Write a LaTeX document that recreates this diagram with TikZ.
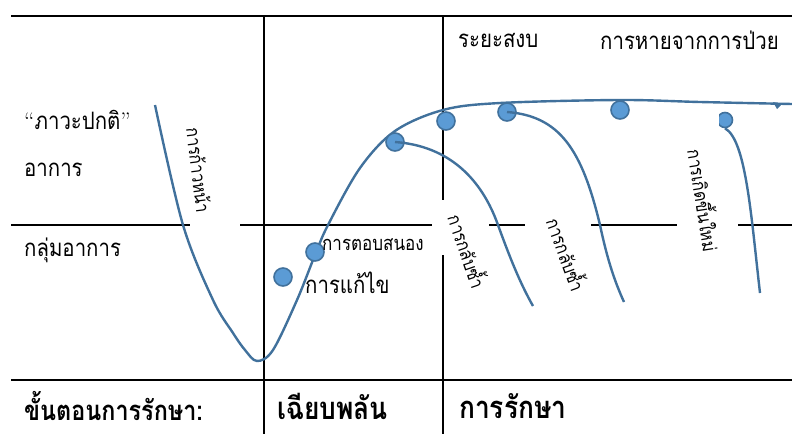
\documentclass[tikz,border=0pt]{standalone}
\usepackage{fontspec}
\newfontfamily\thai[Script=Thai, FakeStretch=0.85]{Loma}
\usetikzlibrary{arrows.meta}
\definecolor{curveblue}{HTML}{41719C}
\definecolor{dotblue}{HTML}{5B9BD5}
\begin{document}
\begin{tikzpicture}[x=1pt,y=-1pt,
  grid/.style={line width=2.2pt, black},
  curve/.style={line width=2.4pt, curveblue},
  dot/.style={circle, fill=dotblue, draw=curveblue, line width=1.6pt, minimum size=18pt, inner sep=0pt},
  lbl/.style={inner sep=0pt, anchor=west, font=\thai\fontsize{24}{27}\selectfont},
  small/.style={inner sep=0pt, anchor=west, font=\thai\fontsize{20}{22}\selectfont},
  rot/.style={inner sep=0pt, font=\thai\fontsize{18.8}{21}\selectfont},
  big/.style={inner sep=0pt, anchor=west, font=\thai\bfseries\fontsize{31}{34}\selectfont},
  mid/.style={inner sep=0pt, anchor=west, font=\thai\bfseries\fontsize{27.5}{30}\selectfont}]
\useasboundingbox (0,0) rectangle (792,434);
% grid
\draw[grid] (11,16) -- (792,16);
\draw[grid] (11,380) -- (792,380);
\draw[grid] (264,16) -- (264,434);
\draw[grid] (443,16) -- (443,200);
\draw[grid] (443,255) -- (443,434);
\draw[grid] (11,225) -- (190,225);
\draw[grid] (240,225) -- (432,225);
\draw[grid] (489,225) -- (525,225);
\draw[grid] (591,225) -- (677,225);
\draw[grid] (738,225) -- (792,225);
% main curve
\draw[curve] plot[smooth, tension=0.55] coordinates {(155,105) (183,225) (213,300) (233,333) (245,350) (257,361) (273,350) (297,300) (315,255) (328,225) (360,168) (395,131) (443,110) (500,103) (620,100) (700,102) (792,104)};
\fill[curveblue] (773,102) -- (782,104) -- (777,109) -- cycle;
% dots
\node[dot] (d1) at (283,277) {};
\node[dot] (d2) at (315,252) {};
\node[dot] (d3) at (395,142) {};
\node[dot] (d4) at (446,121) {};
\node[dot] (d5) at (507,112) {};
\node[dot] (d6) at (620,110) {};
% branches
\coordinate (e1) at (533,306);
\coordinate (e2) at (624,302);
\coordinate (s3) at (760,293);
\draw[curve] (d3.center) .. controls (450,146) and (482,180) .. (498,225) .. controls (510,258) and (520,283) .. (e1);
\draw[curve] (d5.center) .. controls (560,116) and (582,150) .. (600,225) .. controls (607,258) and (614,280) .. (e2);
\begin{scope}
\clip (719,100) rectangle (745,140);
\node[dot, minimum size=15pt] (tip) at (725,120) {};
\end{scope}
\draw[curve] (s3) .. controls (751,215) and (746,140) .. (tip.south);
% labels
\node[lbl] (normal) at (24,120) {{\rmfamily “}ภาวะปกติ{\rmfamily ”}};
\node[lbl] (sym) at (24,170) {อาการ};
\node[lbl] (syn) at (24,250) {กลุ่มอาการ};
\node[mid] (stage) at (24,406) {ขั้นตอนการรักษา:};
\node[big] (acute) at (277,406) {เฉียบพลัน};
\node[big] (treat) at (459,406) {การรักษา};
\node[lbl] (remis) at (458,40) {ระยะสงบ};
\node[lbl] (recov) at (600,40) {การหายจากการป่วย};
\node[small] (resp) at (322,245) {การตอบสนอง};
\node[lbl] (fix) at (305,283) {การแก้ไข};
\node[rot, rotate=-83] (prog) at (199,170) {การก้าวหน้า};
\node[rot, rotate=-71] (rel1) at (469,251) {การกลับซ้ำ};
\node[rot, rotate=-70] (rel2) at (568,254) {การกลับซ้ำ};
\node[rot, rotate=-81] (recur) at (705,200) {การเกิดขึ้นใหม่};
\end{tikzpicture}
\end{document}
